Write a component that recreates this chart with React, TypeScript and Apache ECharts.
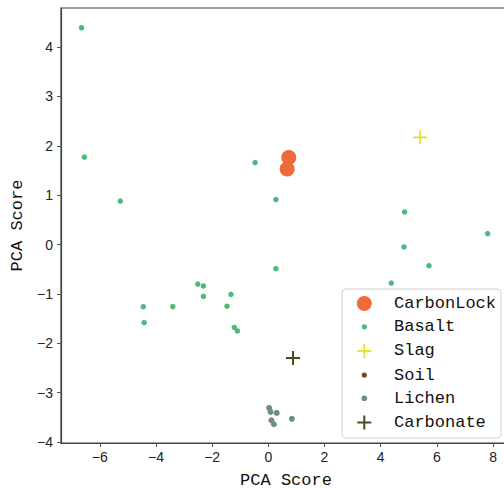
import React, { useEffect, useRef } from "react";
import * as echarts from "echarts";

// ---- data ----
const seriesNames = ["CarbonLock", "Basalt", "Slag", "Soil", "Lichen", "Carbonate"];

const carbonLock: number[][] = [
  [0.73, 1.76],
  [0.67, 1.53],
];

const basalt: number[][] = [
  [-6.65, 4.39],
  [-6.55, 1.77],
  [-5.27, 0.88],
  [-0.47, 1.66],
  [0.27, 0.91],
  [4.85, 0.66],
  [7.81, 0.22],
  [4.83, -0.05],
  [5.72, -0.43],
  [4.38, -0.78],
  [0.27, -0.49],
  [-2.51, -0.8],
  [-2.31, -0.84],
  [-2.31, -1.05],
  [-1.33, -1.01],
  [-1.47, -1.25],
  [-4.45, -1.26],
  [-3.4, -1.26],
  [-4.42, -1.58],
  [-1.21, -1.68],
  [-1.1, -1.75],
];

const slag: number[][] = [[5.4, 2.17]];

const soil: number[][] = [];

const lichen: number[][] = [
  [0.03, -3.31],
  [0.08, -3.39],
  [0.3, -3.41],
  [0.11, -3.56],
  [0.2, -3.64],
  [0.84, -3.53],
];

const carbonate: number[][] = [[0.88, -2.3]];

const xTicks = [-6, -4, -2, 0, 2, 4, 6, 8];
const yTicks = [-4, -3, -2, -1, 0, 1, 2, 3, 4];

const colors = {
  CarbonLock: "#EE6A3B",
  Basalt: "#4DBA7C",
  Slag: "#DEE021",
  Soil: "#6E4A28",
  Lichen: "#6F8F7C",
  Carbonate: "#4A4A1E",
};

// legend icon geometry (box W x H, icon centered at cx, cy)
const W = 41;
const H = 17;
const CX = 16.3;
const CY = 8.5;
const dotIcon = (r: number) =>
  `path://M0 0M${W} ${H}M${CX - r} ${CY}A${r} ${r} 0 1 0 ${CX + r} ${CY}A${r} ${r} 0 1 0 ${CX - r} ${CY}Z`;
const crossIcon = (s: number) =>
  `path://M0 0M${W} ${H}M${CX} ${CY - s}L${CX} ${CY + s}M${CX - s} ${CY}L${CX + s} ${CY}`;

const crossSymbol = "path://M7 0L7 14M0 7L14 7";

export default function App() {
  const ref = useRef<HTMLDivElement>(null);

  useEffect(() => {
    if (!ref.current) return;
    const chart = echarts.init(ref.current, undefined, { renderer: "svg" });
    const tickFont = "'Liberation Sans', Arial, sans-serif";
    const monoFont = "'Liberation Mono', 'DejaVu Sans Mono', monospace";

    chart.setOption({
      animation: false,
      backgroundColor: "#ffffff",
      grid: {
        left: 61,
        top: 8,
        right: -7,
        bottom: 46,
        containLabel: false,
        outerBoundsMode: "none",
        show: true,
        borderColor: "#444",
        borderWidth: 1.2,
        backgroundColor: "transparent",
      },
      legend: {
        orient: "vertical",
        left: 342,
        top: 289,
        padding: [6, 5, 6, 5],
        itemWidth: W,
        itemHeight: H,
        itemGap: 6.3,
        backgroundColor: "rgba(255,255,255,0.85)",
        borderColor: "#d0d0d0",
        borderWidth: 1,
        borderRadius: 4,
        selectedMode: false,
        textStyle: { fontFamily: monoFont, fontSize: 17, color: "#111" },
        data: [
          { name: "CarbonLock", icon: dotIcon(7.5) },
          { name: "Basalt", icon: dotIcon(2.6) },
          { name: "Slag", icon: crossIcon(7), itemStyle: { borderWidth: 1.6, borderColor: colors.Slag } },
          { name: "Soil", icon: dotIcon(2.6) },
          { name: "Lichen", icon: dotIcon(2.8) },
          { name: "Carbonate", icon: crossIcon(7), itemStyle: { borderWidth: 2, borderColor: colors.Carbonate } },
        ],
      },
      xAxis: {
        type: "value",
        min: -7.38,
        max: 8.64,
        splitLine: { show: false },
        axisLine: { show: true, onZero: false, lineStyle: { color: "#444", width: 1.2 } },
        axisTick: { show: true, length: 4, lineStyle: { color: "#555" }, customValues: xTicks },
        axisLabel: {
          customValues: xTicks,
          margin: 7,
          fontFamily: tickFont,
          fontSize: 14,
          color: "#222",
          formatter: (v: number) => (v < 0 ? "\u2212" + Math.abs(v) : String(v)),
        },
        name: "PCA Score",
        nameLocation: "middle",
        nameGap: 29,
        nameTextStyle: { fontFamily: monoFont, fontSize: 17, lineHeight: 17, color: "#111" },
      },
      yAxis: {
        type: "value",
        min: -4.02,
        max: 4.79,
        splitLine: { show: false },
        axisLine: { show: true, onZero: false, lineStyle: { color: "#444", width: 1.2 } },
        axisTick: { show: true, length: 4, lineStyle: { color: "#555" }, customValues: yTicks },
        axisLabel: {
          customValues: yTicks,
          margin: 8,
          fontFamily: tickFont,
          fontSize: 14,
          color: "#222",
          formatter: (v: number) => (v < 0 ? "\u2212" + Math.abs(v) : String(v)),
        },
        name: "PCA Score",
        nameLocation: "middle",
        nameGap: 32,
        nameTextStyle: { fontFamily: monoFont, fontSize: 17, color: "#111" },
      },
      series: [
        {
          name: "CarbonLock",
          type: "scatter",
          data: carbonLock,
          symbol: "circle",
          symbolSize: 15,
          z: 5,
          silent: true,
          itemStyle: { color: colors.CarbonLock, opacity: 1 },
        },
        {
          name: "Basalt",
          type: "scatter",
          data: basalt,
          symbol: "circle",
          symbolSize: 5.5,
          silent: true,
          itemStyle: { color: colors.Basalt, opacity: 1 },
        },
        {
          name: "Slag",
          type: "scatter",
          data: slag,
          symbol: crossSymbol,
          symbolSize: 14,
          silent: true,
          itemStyle: { color: colors.Slag, borderColor: colors.Slag, borderWidth: 1.6, opacity: 1 },
        },
        {
          name: "Soil",
          type: "scatter",
          data: soil,
          symbol: "circle",
          symbolSize: 5.5,
          silent: true,
          itemStyle: { color: colors.Soil, opacity: 1 },
        },
        {
          name: "Lichen",
          type: "scatter",
          data: lichen,
          symbol: "circle",
          symbolSize: 6,
          silent: true,
          itemStyle: { color: colors.Lichen, opacity: 1 },
        },
        {
          name: "Carbonate",
          type: "scatter",
          data: carbonate,
          symbol: crossSymbol,
          symbolSize: 14,
          silent: true,
          itemStyle: { color: colors.Carbonate, borderColor: colors.Carbonate, borderWidth: 2, opacity: 1 },
        },
      ],
    });

    return () => chart.dispose();
  }, []);

  return <div ref={ref} style={{ width: 504, height: 489, position: "absolute", left: 0, top: 0 }} />;
}
